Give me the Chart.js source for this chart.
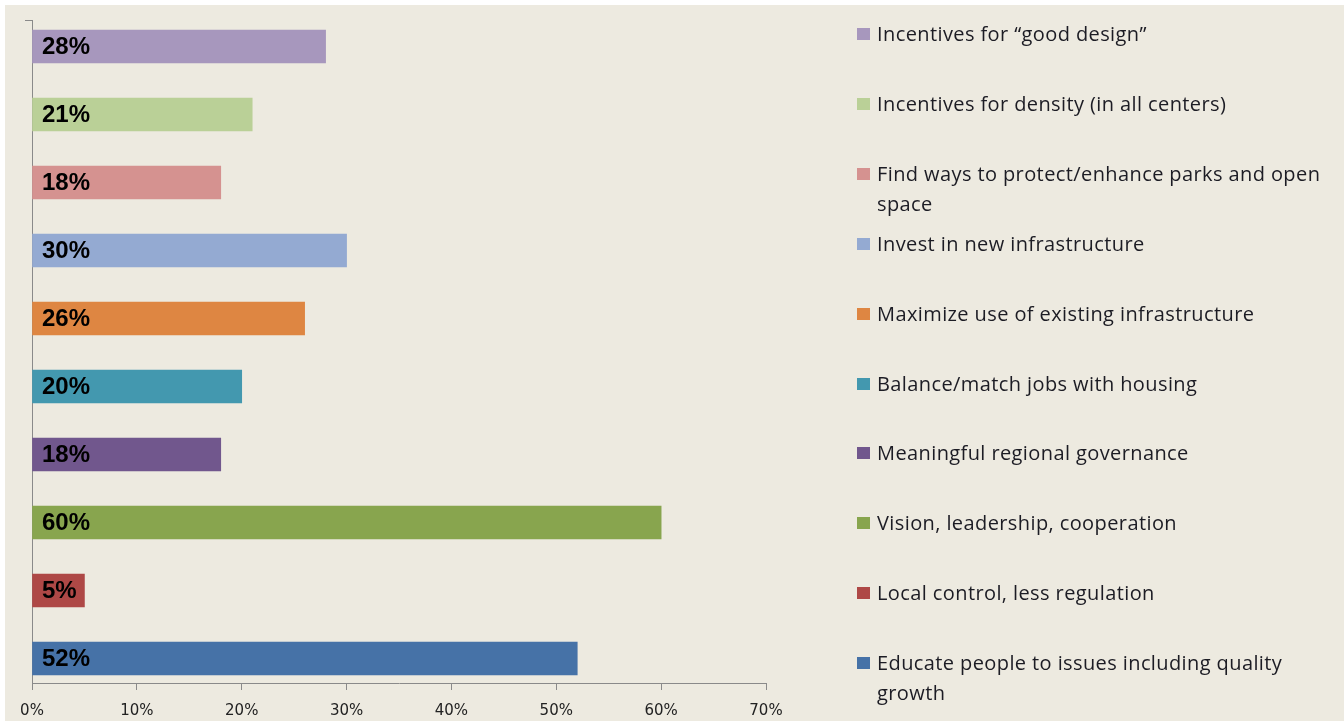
<!DOCTYPE html>
<html>
<head>
    <title>Regional success</title>
    <meta charset="utf-8" />
    <script src="https://cdn.jsdelivr.net/npm/chart.js"></script>
    <style>
        html, body { margin: 0; padding: 0; background: #ffffff; }
        #panel {
            position: absolute; left: 5px; top: 5px; width: 1339px; height: 716px;
            background: #EDEAE0;
        }
        #wrap { position: absolute; left: 0; top: 0; width: 1344px; height: 721px; }
        #legend {
            position: absolute; left: 857px; top: 19px; width: 480px;
            font-family: "Open Sans", sans-serif; font-size: 20px; letter-spacing: 0.4px; color: #1c1c24;
        }
        #legend .item { position: absolute; left: 0; height: 70px; line-height: 30px; white-space: nowrap; }
        #legend i {
            position: absolute; left: 0; top: 9px; width: 13px; height: 12px; display: inline-block;
        }
        #legend span { position: absolute; left: 20px; top: 0; }
    </style>
</head>
<body>
    <div id="panel"></div>
    <div id="wrap"><canvas id="chart" width="1344" height="721"></canvas></div>
    <div id="legend"></div>

    <script>
        // categories, top to bottom
        const categories = [
            'Incentives for \u201cgood design\u201d',
            'Incentives for density (in all centers)',
            ['Find ways to protect/enhance parks and open', 'space'],
            'Invest in new infrastructure',
            'Maximize use of existing infrastructure',
            'Balance/match  jobs with housing',
            'Meaningful regional governance',
            'Vision, leadership, cooperation',
            'Local control, less regulation',
            ['Educate people to issues including quality', 'growth']
        ];
        const values = [28, 21, 18, 30, 26, 20, 18, 60, 5, 52];
        const barColors = ['#A797BD', '#BAD097', '#D59290', '#94AAD2', '#DE8642',
                           '#4398AF', '#71578D', '#88A54E', '#AE4846', '#4672A7'];
        const xTicks = [0, 10, 20, 30, 40, 50, 60, 70];

        // value labels inside the bars, at the left end
        const barLabels = {
            id: 'barLabels',
            afterDatasetsDraw(chart) {
                const ctx = chart.ctx;
                const meta = chart.getDatasetMeta(0);
                ctx.save();
                ctx.font = 'bold 24px "Liberation Sans", sans-serif';
                ctx.fillStyle = '#000000';
                ctx.textBaseline = 'middle';
                meta.data.forEach((bar, i) => {
                    ctx.fillText(values[i] + '%', chart.chartArea.left + 10, bar.y + 1);
                });
                ctx.restore();
            }
        };

        new Chart(document.getElementById('chart'), {
            type: 'bar',
            data: {
                datasets: [{
                    data: values.map((v, i) => ({ x: v, y: i })),
                    backgroundColor: barColors,
                    borderWidth: 0,
                    barThickness: 33
                }]
            },
            options: {
                indexAxis: 'y',
                responsive: false,
                animation: false,
                layout: { padding: { left: 32, right: 578, top: 20, bottom: 0 } },
                plugins: {
                    legend: { display: false },
                    tooltip: { enabled: false }
                },
                scales: {
                    x: {
                        min: 0, max: 70,
                        afterBuildTicks: s => { s.ticks = xTicks.map(v => ({ value: v })); },
                        afterFit: s => { s.height = 38; },
                        grid: { drawOnChartArea: false, drawTicks: true, tickLength: 7, color: '#8a8a8a' },
                        border: { color: '#8a8a8a', width: 1 },
                        ticks: {
                            padding: 12,
                            color: '#222222',
                            font: { family: '"DejaVu Sans", sans-serif', size: 15 },
                            callback: v => v + '%'
                        }
                    },
                    y: {
                        type: 'linear',
                        reverse: true,
                        offset: false,
                        min: -0.39,
                        max: 9.36,
                        // only the small tick mark at the top of the axis
                        afterBuildTicks: s => { s.ticks = [{ value: 9.36 }]; },
                        afterFit: s => { s.width = 0; },
                        grid: { drawOnChartArea: false, drawTicks: true, tickLength: 7, color: '#8a8a8a' },
                        border: { color: '#8a8a8a', width: 1 },
                        ticks: { display: false }
                    }
                }
            },
            plugins: [barLabels]
        });

        // legend on the right, one entry per category
        const legend = document.getElementById('legend');
        categories.forEach((c, i) => {
            const item = document.createElement('div');
            item.className = 'item';
            item.style.top = (i * 69.9) + 'px';
            const text = Array.isArray(c) ? c.join('<br>') : c;
            item.innerHTML = '<i style="background:' + barColors[i] + '"></i><span>' + text + '</span>';
            legend.appendChild(item);
        });
    </script>
</body>
</html>
